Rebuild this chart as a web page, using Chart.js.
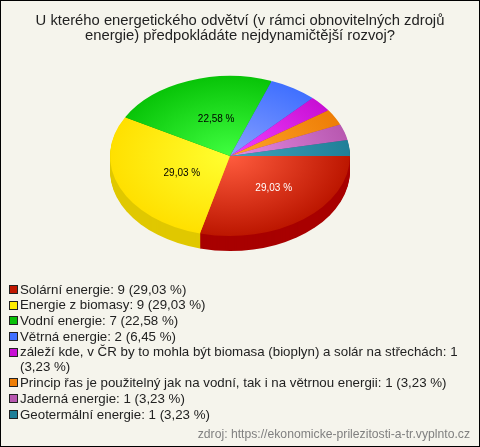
<!DOCTYPE html>
<html>
<head>
<meta charset="utf-8">
<script src="https://cdn.jsdelivr.net/npm/chart.js@4"></script>
<style>
  html, body { margin: 0; padding: 0; background: #f5f4ec; }
  #wrap { position: relative; width: 480px; height: 447px; }
</style>
</head>
<body>
<div id="wrap"><canvas id="chart" width="480" height="447"></canvas></div>
<script>
const titleLines = ['U kterého energetického odvětví (v rámci obnovitelných zdrojů', 'energie) předpokládáte nejdynamičtější rozvoj?'];
const categories = [
  'Solární energie',
  'Energie z biomasy',
  'Vodní energie',
  'Větrná energie',
  'záleží kde, v ČR by to mohla být biomasa (bioplyn) a solár na střechách',
  'Princip řas je použitelný jak na vodní, tak i na větrnou energii',
  'Jaderná energie',
  'Geotermální energie'
];
const counts = [9, 9, 7, 2, 1, 1, 1, 1];
const centerColors = ['#ff5c3e', '#ffff30', '#40ff40', '#88a0ff', '#f240ff', '#ffa428', '#e48ce4', '#40a4bc'];
const rimColors = ['#bc1600', '#ffe000', '#08c408', '#4070ff', '#c810d4', '#ee7e06', '#b858b0', '#1f7f98'];
const sideColors = ['#a80000', '#e0c800', '#089008', '#3050c0', '#9808a0', '#b86004', '#884080', '#186070'];
const swatchColors = ['#c01800', '#ffee00', '#08c008', '#4070ff', '#c810d4', '#ee7e06', '#b858b0', '#1f7f98'];
const source = 'zdroj: https://ekonomicke-prilezitosti-a-tr.vyplnto.cz';

const total = counts.reduce((a, b) => a + b, 0);
const pct = v => (v / total * 100).toFixed(2).replace('.', ',') + ' %';

const FONT = '"Liberation Sans", Arial, sans-serif';
const squash = 2 / 3;
const pieCenterX = 230;
const pieCenterY = 156;
const depth = 15;

// the pie is drawn flat by the library, this tilts it and adds the side wall
const tiltPlugin = {
  id: 'tilt',
  beforeDatasetsDraw(chart) {
    const ctx = chart.ctx;
    const arcs = chart.getDatasetMeta(0).data;
    ctx.save();
    ctx.translate(pieCenterX, pieCenterY);
    ctx.scale(1, squash);
    ctx.translate(-arcs[0].x, -arcs[0].y);
    for (let d = depth; d > 0; d--) {
      arcs.forEach((arc, i) => {
        ctx.beginPath();
        ctx.moveTo(arc.x, arc.y + d / squash);
        ctx.arc(arc.x, arc.y + d / squash, arc.outerRadius, arc.startAngle, arc.endAngle);
        ctx.closePath();
        ctx.fillStyle = sideColors[i];
        ctx.fill();
      });
    }
  },
  afterDatasetsDraw(chart) {
    const ctx = chart.ctx;
    ctx.restore();
    // percent labels on the big slices
    const arcs = chart.getDatasetMeta(0).data;
    ctx.save();
    ctx.font = '10px ' + FONT;
    ctx.textAlign = 'center';
    ctx.textBaseline = 'middle';
    arcs.forEach((arc, i) => {
      if (counts[i] / total < 0.1) return;
      const mid = (arc.startAngle + arc.endAngle) / 2;
      const x = pieCenterX + arc.outerRadius * 0.5 * Math.cos(mid) + 7;
      const y = pieCenterY + arc.outerRadius * squash * 0.5 * Math.sin(mid) + 1;
      ctx.fillStyle = i === 0 ? '#ffffff' : '#000000';
      ctx.fillText(pct(counts[i]), x, y);
    });
    ctx.restore();
  }
};

// legend needs wrapped lines and a fixed column, so it is drawn by hand
const legendPlugin = {
  id: 'sideLegend',
  afterDraw(chart) {
    const ctx = chart.ctx;
    const maxWidth = 445;
    const rowH = 15.7;
    let y = 290;
    ctx.save();
    ctx.font = '13.3px ' + FONT;
    ctx.textBaseline = 'middle';
    ctx.textAlign = 'left';
    categories.forEach((name, i) => {
      ctx.fillStyle = swatchColors[i];
      ctx.strokeStyle = '#222222';
      ctx.lineWidth = 1;
      ctx.fillRect(9.5, Math.round(y) - 4.5, 8, 8);
      ctx.strokeRect(9.5, Math.round(y) - 4.5, 8, 8);
      const words = (name + ': ' + counts[i] + ' (' + pct(counts[i]) + ')').split(' ');
      let line = '';
      ctx.fillStyle = '#222222';
      words.forEach(w => {
        const next = line ? line + ' ' + w : w;
        if (ctx.measureText(next).width > maxWidth) {
          ctx.fillText(line, 20, y);
          y += 15;
          line = w;
        } else {
          line = next;
        }
      });
      ctx.fillText(line, 20, y);
      y += rowH;
    });
    ctx.fillStyle = '#808080';
    ctx.textAlign = 'right';
    ctx.font = '12.2px ' + FONT;
    ctx.fillText(source, 470, 435);
    ctx.strokeStyle = '#000000';
    ctx.strokeRect(0.5, 0.5, 479, 446);
    ctx.restore();
  }
};

new Chart(document.getElementById('chart'), {
  type: 'pie',
  data: {
    labels: categories,
    datasets: [{
      data: counts,
      borderWidth: 0,
      backgroundColor(c) {
        const a = c.chart.chartArea;
        if (!a) return rimColors[c.dataIndex];
        const cx = (a.left + a.right) / 2;
        const cy = (a.top + a.bottom) / 2;
        const r = Math.min(a.right - a.left, a.bottom - a.top) / 2;
        const g = c.chart.ctx.createRadialGradient(cx, cy, 0, cx, cy, r);
        g.addColorStop(0, centerColors[c.dataIndex]);
        g.addColorStop(1, rimColors[c.dataIndex]);
        return g;
      }
    }]
  },
  plugins: [tiltPlugin, legendPlugin],
  options: {
    responsive: false,
    animation: false,
    rotation: 90,
    layout: { padding: { left: 0, right: 0, top: 0, bottom: 159 } },
    plugins: {
      legend: { display: false },
      tooltip: { enabled: false },
      title: {
        display: true,
        text: titleLines,
        color: '#222222',
        font: { family: FONT, size: 14.8, weight: 'normal', lineHeight: 1.05 },
        padding: { top: 13, bottom: 4 }
      }
    }
  }
});
</script>
</body>
</html>
